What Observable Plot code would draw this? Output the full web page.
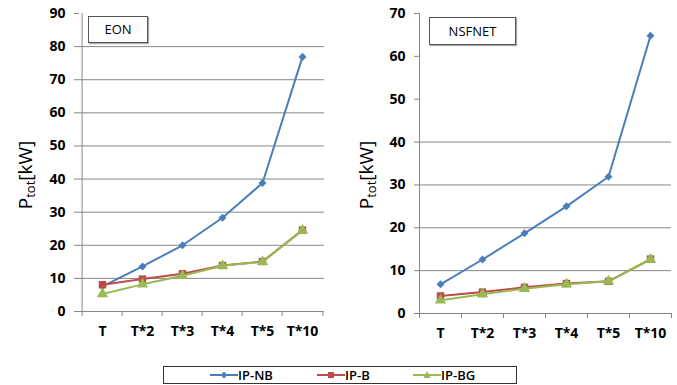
<!DOCTYPE html>
<html>
<head>
<meta charset="utf-8">
<script src="https://cdn.jsdelivr.net/npm/d3@7"></script>
<script src="https://cdn.jsdelivr.net/npm/@observablehq/plot@0.6"></script>
<style>
  body { margin: 0; background: #fff; }
  #wrap { position: relative; width: 677px; height: 385px; font-family: "Open Sans", sans-serif; overflow: hidden; }
  .plot { position: absolute; top: 0; }
  .ylab { position: absolute; font-size: 19px; white-space: nowrap; transform: translate(-50%, -50%) rotate(-90deg); color: #000; }
  .ylab sub { font-size: 13px; vertical-align: -3px; }
  .tag { position: absolute; border: 1px solid #555; background: #fff; font-size: 13px; text-align: center; box-sizing: border-box; box-shadow: 1px 1px 1px #aaa; }
  #legend { position: absolute; left: 163px; top: 366px; width: 354px; height: 18px; border: 1px solid #333; box-sizing: border-box; }
  .li { position: absolute; top: 0; font-size: 13px; font-weight: 600; line-height: 16px; }
  .li svg { vertical-align: -3px; }
</style>
</head>
<body>
<div id="wrap"></div>
<script>
const categories = ["T", "T*2", "T*3", "T*4", "T*5", "T*10"];
const seriesNames = ["IP-NB", "IP-B", "IP-BG"];

// EON
const eonNB = [7.6, 13.6, 20.0, 28.3, 38.8, 76.9];
const eonB  = [8.1, 9.8, 11.4, 13.9, 15.1, 24.6];
const eonBG = [5.3, 8.2, 10.8, 13.8, 15.0, 24.5];
// NSFNET
const nsfNB = [6.8, 12.6, 18.7, 25.0, 31.9, 64.8];
const nsfB  = [4.1, 5.0, 6.1, 7.0, 7.5, 12.7];
const nsfBG = [3.1, 4.5, 5.8, 6.8, 7.5, 12.6];

const eonTicks = [0, 10, 20, 30, 40, 50, 60, 70, 80, 90];
const nsfTicks = [0, 10, 20, 30, 40, 50, 60, 70];
const eonGrid = [10, 20, 30, 40, 50, 60, 70, 80];
const nsfGrid = [10, 20, 30, 40];

const colors = ["#4a7ebb", "#be4b48", "#98b954"];
const symbols = ["square", "square", "triangle"];
const rotations = [45, 0, 0];
const sizes = [3.2, 4.2, 4.2];

function rows(series) {
  const out = [];
  series.forEach((vals, s) => vals.forEach((v, i) => out.push({cat: categories[i], value: v, series: seriesNames[s]})));
  return out;
}

function chart({data, ticks, grid, yMax, width, height, ml, mr, mt, mb}) {
  const step = (width - ml - mr) / categories.length;
  const axisColor = "#868686";
  const marks = [
    Plot.ruleY(grid, {stroke: axisColor, strokeWidth: 1}),
    Plot.ruleY([0], {stroke: axisColor, strokeWidth: 1}),
    Plot.ruleX([categories[0]], {dx: -step / 2, y1: 0, y2: yMax, stroke: axisColor}),
    Plot.ruleX(categories, {dx: -step / 2, y1: 0, y2: 0, insetBottom: -5, stroke: axisColor}),
    Plot.ruleX([categories[categories.length - 1]], {dx: step / 2, y1: 0, y2: 0, insetBottom: -5, stroke: axisColor}),
    Plot.axisY({ticks, label: null, tickSize: 5, tickPadding: 9, stroke: axisColor, fontSize: 14, fontWeight: 700, fill: "#000"}),
    Plot.axisX({label: null, tickSize: 0, tickPadding: 15, fontSize: 14, fontWeight: 700, fill: "#000"})
  ];
  seriesNames.forEach((name, s) => {
    const d = data.filter(r => r.series === name);
    marks.push(Plot.line(d, {x: "cat", y: "value", stroke: colors[s], strokeWidth: 2}));
    marks.push(Plot.dot(d, {x: "cat", y: "value", fill: colors[s], symbol: symbols[s], rotate: rotations[s], r: sizes[s], stroke: "none"}));
  });
  return Plot.plot({
    width, height,
    marginLeft: ml, marginRight: mr, marginTop: mt, marginBottom: mb,
    style: {fontFamily: "Open Sans, sans-serif", overflow: "visible", background: "transparent"},
    x: {type: "point", domain: categories, padding: 0.5, axis: null, label: null},
    y: {domain: [0, yMax], axis: null, label: null},
    marks
  });
}

const wrap = document.getElementById("wrap");

const left = chart({data: rows([eonNB, eonB, eonBG]), ticks: eonTicks, grid: eonGrid, yMax: 90,
  width: 340, height: 345, ml: 79, mr: 16, mt: 13, mb: 34});
left.classList.add("plot");
left.style.left = "0px";
wrap.appendChild(left);

const right = chart({data: rows([nsfNB, nsfB, nsfBG]), ticks: nsfTicks, grid: nsfGrid, yMax: 70,
  width: 337, height: 345, ml: 79, mr: 6, mt: 13, mb: 32});
right.classList.add("plot");
right.style.left = "340px";
wrap.appendChild(right);

function addHTML(html) { const t = document.createElement("div"); t.innerHTML = html; const el = t.firstElementChild; wrap.appendChild(el); return el; }

addHTML('<div class="ylab" style="left:25px;top:175px">P<sub>tot</sub>[kW]</div>');
addHTML('<div class="ylab" style="left:366px;top:175px">P<sub>tot</sub>[kW]</div>');
addHTML('<div class="tag" style="left:88px;top:16px;width:60px;height:27px;line-height:25px">EON</div>');
addHTML('<div class="tag" style="left:429px;top:17px;width:87px;height:28px;line-height:26px">NSFNET</div>');

const legend = addHTML('<div id="legend"></div>');
const legX = [46, 153, 249];
seriesNames.forEach((name, s) => {
  const shape = s === 0 ? '<path d="M14 4.5 L17.5 8 L14 11.5 L10.5 8 Z" fill="' + colors[s] + '"/>'
    : s === 1 ? '<rect x="11" y="5" width="6" height="6" fill="' + colors[s] + '"/>'
    : '<path d="M14 4 L17.5 11 L10.5 11 Z" fill="' + colors[s] + '"/>';
  const el = document.createElement("div");
  el.className = "li";
  el.style.left = legX[s] + "px";
  el.innerHTML = '<svg width="28" height="16"><line x1="0" y1="8" x2="28" y2="8" stroke="' + colors[s] + '" stroke-width="2"/>' + shape + '</svg>' + name;
  legend.appendChild(el);
});
</script>
</body>
</html>
